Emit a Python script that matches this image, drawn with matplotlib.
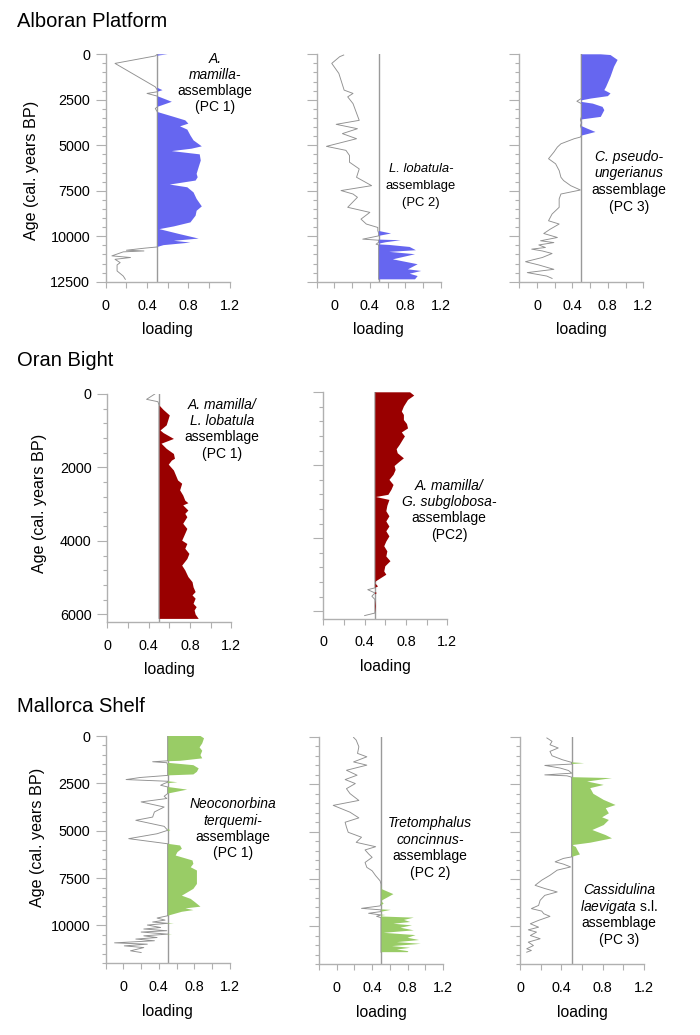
import numpy as np
import matplotlib
matplotlib.use("Agg")
import matplotlib.pyplot as plt
from matplotlib.ticker import MultipleLocator

plt.rcParams['font.family'] = ['Liberation Sans', 'DejaVu Sans']
plt.rcParams['mathtext.fontset'] = 'custom'
plt.rcParams['mathtext.rm'] = 'Liberation Sans'
plt.rcParams['mathtext.it'] = 'Liberation Sans:italic'

# ---- Alboran Platform ----
age_alb1 = [0, 90, 500, 1790, 1970, 2060, 2150, 2300, 2610, 2890, 2980, 3170, 3440, 3630, 3810,
            3960, 4140, 4460, 4730, 5060, 5190, 5320, 5500, 5840, 6200, 6570, 6760, 6940, 7160,
            7310, 7590, 7950, 8360, 8600, 8870, 9240, 9460, 9610, 9890, 10130, 10250, 10350,
            10490, 10590, 10660, 10770, 10810, 10860, 11080, 11170, 11270, 11450, 11580, 11910,
            12190, 12370]
load_alb1 = [0.60, 0.48, 0.09, 0.48, 0.55, 0.50, 0.40, 0.50, 0.64, 0.50, 0.48, 0.50, 0.66, 0.77,
             0.80, 0.72, 0.79, 0.82, 0.85, 0.93, 0.83, 0.64, 0.91, 0.92, 0.90, 0.88, 0.89, 0.87,
             0.62, 0.79, 0.85, 0.88, 0.93, 0.88, 0.87, 0.82, 0.66, 0.52, 0.72, 0.90, 0.66, 0.82,
             0.56, 0.50, 0.37, 0.20, 0.37, 0.17, 0.06, 0.24, 0.09, 0.14, 0.11, 0.11, 0.17, 0.19]

age_alb2 = [40, 130, 500, 1050, 1970, 2150, 2340, 2710, 3630, 3850, 4090, 4360, 4640, 5060, 5280,
            5560, 5930, 6300, 6760, 7220, 7490, 7680, 7860, 8410, 8690, 9060, 9330, 9520, 9700,
            9850, 9980, 10160, 10220, 10330, 10440, 10480, 10590, 10770, 10860, 10990, 11270,
            11540, 11820, 11910, 12060, 12190, 12370]
load_alb2 = [0.105, 0.06, -0.03, 0.05, 0.11, 0.21, 0.15, 0.21, 0.28, 0.02, 0.26, 0.09, 0.25, -0.09,
             0.13, 0.17, 0.17, 0.28, 0.25, 0.42, 0.075, 0.21, 0.26, 0.15, 0.40, 0.30, 0.36, 0.49,
             0.49, 0.64, 0.50, 0.32, 0.75, 0.58, 0.47, 0.62, 0.85, 0.92, 0.62, 0.91, 0.66, 0.94,
             0.83, 0.98, 0.85, 0.94, 0.91]

age_alb3 = [0, 40, 310, 680, 1230, 1790, 1970, 2150, 2300, 2430, 2580, 2710, 2890, 3070, 3440,
            3590, 3770, 3920, 4090, 4270, 4460, 4550, 4640, 4920, 5100, 5380, 5740, 6020, 6390,
            6760, 6940, 7220, 7460, 7680, 7950, 8410, 8780, 9150, 9330, 9610, 9850, 10070, 10250,
            10350, 10480, 10620, 10710, 10810, 10950, 11170, 11400, 11580, 11820, 12000, 12190,
            12320]
load_alb3 = [0.72, 0.83, 0.91, 0.87, 0.83, 0.78, 0.76, 0.83, 0.80, 0.61, 0.45, 0.63, 0.74, 0.76,
             0.72, 0.49, 0.51, 0.49, 0.57, 0.66, 0.51, 0.49, 0.42, 0.27, 0.23, 0.19, 0.13, 0.21,
             0.25, 0.27, 0.30, 0.38, 0.49, 0.27, 0.25, 0.25, 0.17, 0.13, 0.25, 0.15, 0.076, 0.23,
             0.04, 0.19, 0.02, 0.095, -0.06, 0.06, 0.17, 0.06, -0.13, 0.02, 0.19, -0.11, 0.11, 0.17]

# ---- Oran Bight ----
age_oran1 = [0, 145, 210, 300, 420, 570, 660, 840, 980, 1050, 1210, 1340, 1480, 1620, 1750, 1800,
             1910, 2070, 2340, 2430, 2610, 2750, 2890, 2960, 3020, 3160, 3250, 3340, 3520, 3660,
             3790, 3980, 4070, 4200, 4340, 4480, 4660, 4790, 4970, 5110, 5250, 5380, 5470, 5560,
             5700, 5790, 5880, 5990, 6110]
load_oran1 = [0.46, 0.38, 0.49, 0.50, 0.54, 0.60, 0.59, 0.57, 0.51, 0.54, 0.64, 0.52, 0.57, 0.64,
              0.65, 0.62, 0.59, 0.64, 0.68, 0.72, 0.70, 0.73, 0.75, 0.78, 0.73, 0.78, 0.75, 0.77,
              0.73, 0.77, 0.75, 0.72, 0.77, 0.75, 0.79, 0.77, 0.72, 0.75, 0.78, 0.82, 0.83, 0.85,
              0.82, 0.85, 0.83, 0.86, 0.84, 0.85, 0.88]

age_oran2 = [0, 90, 210, 390, 530, 620, 760, 870, 990, 1100, 1210, 1300, 1440, 1560, 1670, 1810,
             1900, 2020, 2130, 2260, 2400, 2540, 2670, 2810, 2870, 2950, 3110, 3260, 3400, 3540,
             3680, 3810, 3950, 4090, 4220, 4360, 4500, 4630, 4770, 4910, 5000, 5090, 5180, 5230,
             5320, 5360, 5410, 5500, 5590, 5680, 5860, 6050, 6120]
load_oran2 = [0.84, 0.88, 0.82, 0.78, 0.76, 0.78, 0.78, 0.81, 0.82, 0.76, 0.79, 0.77, 0.74, 0.71,
              0.72, 0.78, 0.74, 0.69, 0.70, 0.68, 0.64, 0.68, 0.66, 0.63, 0.51, 0.64, 0.62, 0.61,
              0.64, 0.61, 0.64, 0.61, 0.64, 0.61, 0.59, 0.62, 0.61, 0.65, 0.60, 0.59, 0.61, 0.56,
              0.51, 0.50, 0.53, 0.50, 0.43, 0.52, 0.47, 0.50, 0.51, 0.50, 0.40]

# ---- Mallorca Shelf ----
age_mall1 = [0, 120, 390, 600, 780, 1010, 1180, 1310, 1360, 1410, 1540, 1710, 1890, 2030, 2080,
             2190, 2300, 2390, 2440, 2510, 2600, 2690, 2830, 3040, 3180, 3300, 3480, 3750, 4010,
             4280, 4450, 4770, 4980, 5160, 5420, 5690, 5780, 5950, 6130, 6310, 6570, 6750, 6930,
             7100, 7460, 7810, 8070, 8430, 8600, 8780, 9010, 9100, 9190, 9280, 9490, 9610, 9720,
             9820, 9890, 9980, 10110, 10190, 10280, 10350, 10460, 10550, 10640, 10720, 10810,
             10920, 10990, 11080, 11170, 11250, 11340, 11430]
load_mall1 = [0.87, 0.91, 0.89, 0.86, 0.89, 0.87, 0.89, 0.64, 0.33, 0.49, 0.79, 0.85, 0.83, 0.79,
              0.50, 0.19, 0.03, 0.50, 0.61, 0.46, 0.42, 0.50, 0.72, 0.50, 0.46, 0.49, 0.20, 0.46,
              0.35, 0.33, 0.14, 0.46, 0.53, 0.38, 0.06, 0.50, 0.64, 0.66, 0.61, 0.59, 0.78, 0.79,
              0.76, 0.83, 0.83, 0.83, 0.79, 0.66, 0.76, 0.81, 0.87, 0.70, 0.79, 0.66, 0.50, 0.38,
              0.47, 0.33, 0.57, 0.27, 0.42, 0.23, 0.49, 0.20, 0.55, 0.23, 0.38, 0.14, 0.35, -0.10,
              0.27, 0.01, 0.23, 0.16, 0.08, 0.20]

age_mall2 = [35, 180, 530, 880, 1060, 1330, 1500, 1770, 2030, 2260, 2470, 2740, 3000, 3360, 3620,
             3980, 4280, 4510, 4770, 5040, 5300, 5570, 5800, 5970, 6180, 6360, 6630, 6890, 7070,
             7330, 7600, 7770, 8040, 8300, 8660, 8800, 8920, 9050, 9130, 9220, 9310, 9400, 9470,
             9540, 9660, 9770, 9860, 9950, 10070, 10210, 10340, 10460, 10600, 10720, 10830, 10920,
             11040, 11130, 11220, 11310, 11360]
load_mall2 = [0.19, 0.22, 0.25, 0.235, 0.34, 0.19, 0.34, 0.11, 0.23, 0.095, 0.21, 0.11, 0.15, 0.25,
              -0.04, 0.15, 0.25, 0.095, 0.11, 0.13, 0.28, 0.22, 0.44, 0.32, 0.36, 0.40, 0.32, 0.34,
              0.40, 0.44, 0.49, 0.50, 0.51, 0.64, 0.50, 0.53, 0.49, 0.28, 0.61, 0.51, 0.36, 0.55,
              0.45, 0.87, 0.76, 0.83, 0.64, 0.85, 0.72, 0.87, 0.53, 0.89, 0.80, 0.93, 0.68, 0.95,
              0.625, 0.83, 0.68, 0.81, 0.80]

age_mall3 = [50, 230, 410, 580, 760, 990, 1200, 1340, 1380, 1430, 1500, 1640, 1770, 1910, 2000,
             2050, 2120, 2170, 2350, 2530, 2700, 3000, 3320, 3590, 3760, 4030, 4240, 4380, 4650,
             4910, 5180, 5350, 5580, 5710, 5800, 6010, 6200, 6330, 6410, 6590, 6710, 6860, 7030,
             7300, 7560, 7830, 8000, 8180, 8360, 8620, 8890, 9060, 9190, 9330, 9470, 9680, 9860,
             10040, 10180, 10300, 10480, 10650, 10830, 11010, 11180, 11270, 11360]
load_mall3 = [0.26, 0.31, 0.29, 0.37, 0.29, 0.31, 0.41, 0.51, 0.62, 0.50, 0.24, 0.39, 0.47, 0.51,
              0.24, 0.455, 0.50, 0.89, 0.65, 0.81, 0.68, 0.71, 0.81, 0.925, 0.83, 0.86, 0.795,
              0.86, 0.81, 0.70, 0.83, 0.89, 0.68, 0.50, 0.54, 0.56, 0.58, 0.50, 0.42, 0.34, 0.42,
              0.49, 0.36, 0.29, 0.21, 0.146, 0.24, 0.36, 0.24, 0.195, 0.18, 0.11, 0.21, 0.23, 0.29,
              0.18, 0.10, 0.18, 0.08, 0.16, 0.10, 0.195, 0.08, 0.13, 0.065, 0.11, 0.065]

BLUE = '#6666f0'
RED = '#990000'
GREEN = '#99cc66'
AXC = '#b0b0b0'
LINE = '#909090'

W, H = 700, 1035
fig = plt.figure(figsize=(W / 100, H / 100), dpi=100)


def ftext(x, y, s, **kw):
    fig.text(x / W, 1 - y / H, s, **kw)


def panel(left, top, bottom, xmin, ymax, major, minor, age, load, color, ylabels):
    width = 124
    ax = fig.add_axes([left / W, 1 - bottom / H, width / W, (bottom - top) / H])
    age = np.array(age)
    load = np.array(load)
    ax.axvline(0.5, color='#9a9a9a', lw=1.0, zorder=1)
    ax.fill_betweenx(age, 0.5, load, where=load >= 0.5, interpolate=True,
                     color=color, lw=0, zorder=2)
    ax.plot(np.minimum(load, 0.5), age, color=LINE, lw=0.65, zorder=3)
    ax.set_xlim(xmin, 1.2)
    ax.set_ylim(ymax, 0)
    for s in ['top', 'right']:
        ax.spines[s].set_visible(False)
    for s in ['left', 'bottom']:
        ax.spines[s].set_color(AXC)
        ax.spines[s].set_linewidth(1.0)
    ax.xaxis.set_minor_locator(MultipleLocator(0.2))
    ax.set_xticks([0, 0.4, 0.8, 1.2])
    ax.set_xticklabels(['0', '0.4', '0.8', '1.2'])
    ax.yaxis.set_major_locator(MultipleLocator(major))
    ax.yaxis.set_minor_locator(MultipleLocator(minor))
    ax.tick_params(axis='x', which='both', length=4.1, width=0.8, color=AXC,
                   labelsize=10.4, pad=8)
    ax.tick_params(axis='y', which='major', length=7.2, width=0.8, color=AXC,
                   labelsize=10.4, pad=4.1)
    ax.tick_params(axis='y', which='minor', length=3.1, width=0.8, color=AXC)
    if not ylabels:
        ax.set_yticklabels([])
    ax.set_xlabel('loading', fontsize=11.3, labelpad=7)
    return ax


# row 1
panel(105.7, 54.3, 281.7, 0.0, 12500, 2500, 500, age_alb1, load_alb1, BLUE, True)
panel(316.7, 54.3, 281.7, -0.2, 12500, 2500, 500, age_alb2, load_alb2, BLUE, False)
panel(519.3, 54.3, 281.7, -0.2, 12500, 2500, 500, age_alb3, load_alb3, BLUE, False)
# row 2
panel(107.3, 394.0, 621.7, 0.0, 6200, 2000, 400, age_oran1, load_oran1, RED, True)
panel(323.3, 392.3, 618.5, 0.0, 6200, 2000, 400, age_oran2, load_oran2, RED, False)
# row 3
panel(105.7, 736.0, 963.3, -0.2, 12000, 2500, 500, age_mall1, load_mall1, GREEN, True)
panel(319.0, 736.7, 964.3, -0.2, 12000, 2500, 500, age_mall2, load_mall2, GREEN, False)
panel(520.0, 737.0, 964.3, 0.0, 12000, 2500, 500, age_mall3, load_mall3, GREEN, False)

# section titles
ftext(17, 21.5, 'Alboran Platform', fontsize=14.5, va='center')
ftext(17, 361, 'Oran Bight', fontsize=14.5, va='center')
ftext(17, 706, 'Mallorca Shelf', fontsize=14.5, va='center')

# y-axis labels
ftext(32, 170, 'Age (cal. years BP)', fontsize=11.6, rotation=90, ha='center', va='center')
ftext(40, 503, 'Age (cal. years BP)', fontsize=11.6, rotation=90, ha='center', va='center')
ftext(38, 837, 'Age (cal. years BP)', fontsize=11.6, rotation=90, ha='center', va='center')

# assemblage labels
labels = [
    (215, [59, 75, 91, 107], ['A.', 'mamilla-', 'assemblage', '(PC 1)'], [1, 1, 0, 0], 10),
    (421, [169, 186, 203], ['L. lobatula-', 'assemblage', '(PC 2)'], [1, 0, 0], 9.4),
    (629, [157, 173, 190, 207], ['C. pseudo-', 'ungerianus', 'assemblage', '(PC 3)'], [1, 1, 0, 0], 10),
    (222, [405, 421, 437, 454], ['A. mamilla/', 'L. lobatula', 'assemblage', '(PC 1)'], [1, 1, 0, 0], 10),
    (449, [486, 502, 518, 535], ['A. mamilla/', 'G. subglobosa-', 'assemblage', '(PC2)'], [1, 1, 0, 0], 10),
    (233, [804, 821, 837, 853], ['Neoconorbina', 'terquemi-', 'assemblage', '(PC 1)'], [1, 1, 0, 0], 10),
    (430, [823, 840, 856, 873], ['Tretomphalus', 'concinnus-', 'assemblage', '(PC 2)'], [1, 1, 0, 0], 10),
    (619, [890, 907, 923, 940], ['Cassidulina', r'$\mathit{laevigata}$ s.l.', 'assemblage', '(PC 3)'], [1, 0, 0, 0], 10),
]
for x, ys, lines, ital, fs in labels:
    for y, s, it in zip(ys, lines, ital):
        ftext(x, y, s, fontsize=fs, ha='center', va='center',
              style='italic' if it else 'normal')

fig.savefig('out.png', dpi=100)
